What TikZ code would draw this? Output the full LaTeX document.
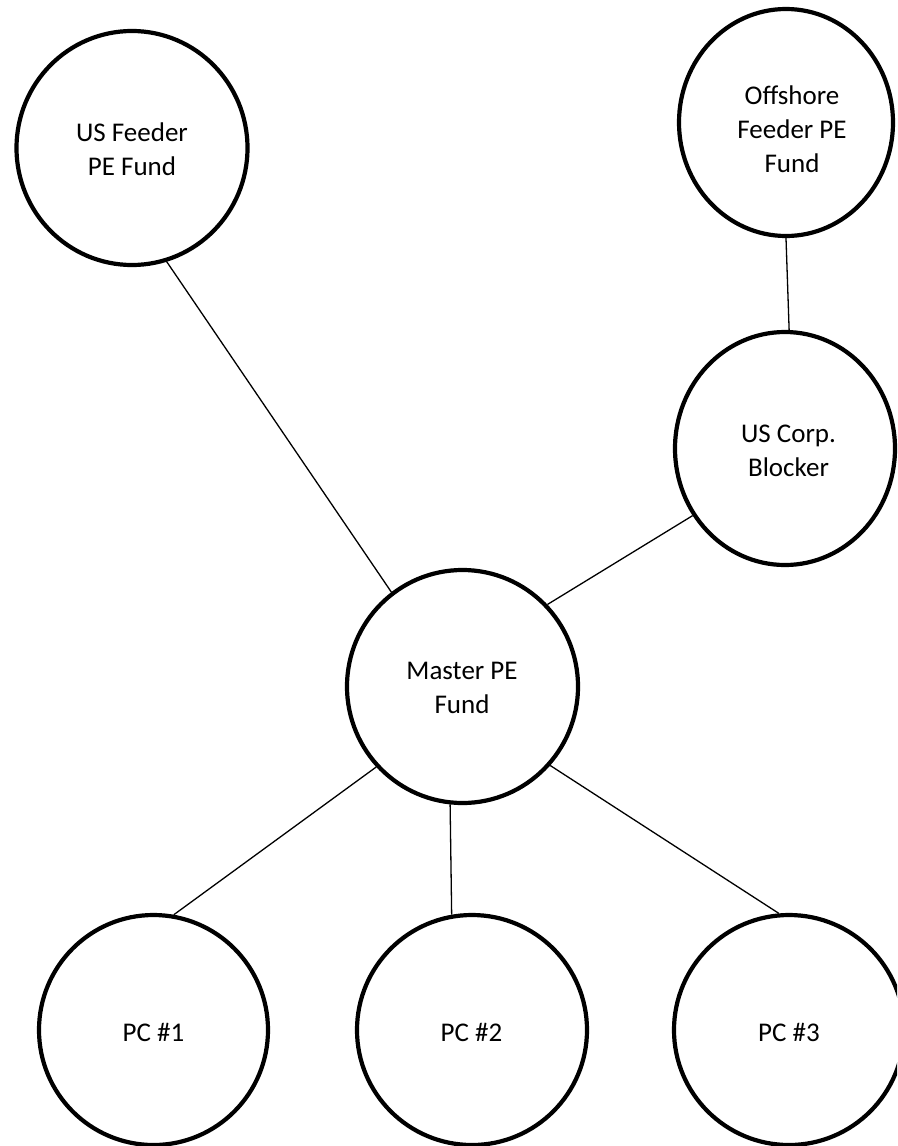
\documentclass[tikz,border=0pt]{standalone}
\usepackage{fontspec}
\setmainfont{Carlito}
\usetikzlibrary{shapes.geometric}
\begin{document}
\begin{tikzpicture}[x=1pt,y=-1pt,
  disc/.style={ellipse,draw=black,line width=4.2pt,fill=white,inner sep=0pt},
  lbl/.style={align=center,inner sep=0pt,font=\fontsize{27}{34}\selectfont},
  link/.style={draw=black,line width=1.3pt}]
  \clip (0,0) rectangle (897,1146);
  \fill[white] (0,0) rectangle (897,1146);

  % entities
  \node[disc,minimum width=231pt,minimum height=234pt] (usf) at (132,148) {};
  \node[disc,minimum width=214pt,minimum height=227pt] (off) at (786,122.5) {};
  \node[disc,minimum width=220pt,minimum height=233pt] (blk) at (785,448.5) {};
  \node[disc,minimum width=231pt,minimum height=233pt] (mst) at (462.5,686.5) {};
  \node[disc,minimum width=229pt,minimum height=230pt] (pc1) at (153.5,1030) {};
  \node[disc,minimum width=230pt,minimum height=230pt] (pc2) at (472,1030) {};
  \node[disc,minimum width=230pt,minimum height=230pt] (pc3) at (789,1030) {};

  % names
  \node[lbl] (usf-t) at (132,149.5) {US Feeder\\PE Fund};
  \node[lbl] (off-t) at (792,129.5) {Offshore\\Feeder PE\\Fund};
  \node[lbl] (blk-t) at (788.5,451) {US Corp.\\Blocker};
  \node[lbl] (mst-t) at (462,688) {Master PE\\Fund};
  \node[lbl] (pc1-t) at (153.5,1032) {PC \#1};
  \node[lbl] (pc2-t) at (471.5,1032) {PC \#2};
  \node[lbl] (pc3-t) at (789,1032) {PC \#3};

  % ownership links
  \draw[link] (usf.-73.8) -- (mst.127.1);
  \draw[link] (off.-90) -- (blk.88);
  \draw[link] (blk.216.4) -- (mst.44.3);
  \draw[link] (mst.223) -- (pc1.80.9);
  \draw[link] (mst.264.5) -- (pc2.100.6);
  \draw[link] (mst.-42.6) -- (pc3.95.4);
\end{tikzpicture}
\end{document}
